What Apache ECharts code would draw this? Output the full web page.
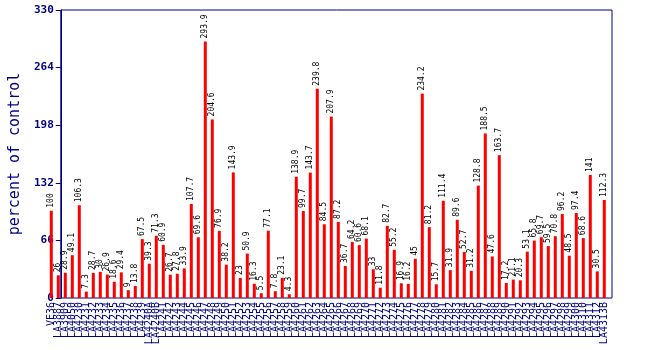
<!DOCTYPE html>
<html>
<head>
<meta charset="utf-8">
<script src="https://cdn.jsdelivr.net/npm/echarts@6/dist/echarts.min.js"></script>
<style>
html,body{margin:0;padding:0;background:#fff;}
#c{width:650px;height:350px;}
</style>
</head>
<body>
<div id="c"></div>
<script>
var categories = ["VE36","LA3887","LA3909","LA4050","LA4230","LA4231","LA4232","LA4233","LA4234","LA4235",
"LA4236","LA4237","LA4238","LA4239","LA4240A","LA4240B","LA4241","LA4242","LA4243","LA4244",
"LA4245","LA4246","LA4247","LA4248","LA4249","LA4250","LA4251","LA4252","LA4253","LA4254",
"LA4255","LA4256","LA4257","LA4258","LA4259","LA4260","LA4261","LA4262","LA4263","LA4264",
"LA4265","LA4266","LA4267","LA4268","LA4269","LA4270","LA4271","LA4272","LA4273","LA4274",
"LA4275","LA4276","LA4277","LA4278","LA4279","LA4280","LA4281","LA4282","LA4283","LA4284",
"LA4285","LA4286","LA4287","LA4288","LA4289","LA4290","LA4291","LA4292","LA4293","LA4294",
"LA4295","LA4296","LA4297","LA4298","LA4299","LA4300","LA4310","LA4311","LA4312","LA4313B"];
var values = [100,26,28.9,49.1,106.3,7.3,28.7,30,26.9,18.6,
29.4,9,13.8,67.5,39.3,71.3,60.9,26.7,27.8,33.9,
107.7,69.6,293.9,204.6,76.9,38.2,143.9,23,50.9,16.3,
5.5,77.1,7.8,23.1,4.3,138.9,99.7,143.7,239.8,84.5,
207.9,87.2,36.7,64.2,60.6,68.1,33,11.8,82.7,55.2,
16.9,16.2,45,234.2,81.2,15.7,111.4,31.9,89.6,52.7,
31.2,128.8,188.5,47.6,163.7,17.2,21.1,20.3,53.1,65.8,
69.7,59.5,70.8,96.2,48.5,97.4,68.6,141,30.5,112.3];
var yTicks = [0,66,132,198,264,330];
var yName = "percent of control";

var navy = '#000080';
var mono = 'DejaVu Sans Mono';
var chart = echarts.init(document.getElementById('c'), null, {renderer:'canvas'});
chart.setOption({
  animation:false,
  backgroundColor:'#ffffff',
  grid:[
    {left:45, top:10, width:567, height:288, show:true, borderColor:navy, borderWidth:1, backgroundColor:'transparent'},
    {left:47.8, top:10, width:560, height:288}
  ],
  xAxis:[
    {type:'value', gridIndex:0, show:false, min:0, max:1},
    {type:'category', gridIndex:1, data:categories, boundaryGap:true,
     axisLine:{show:false}, axisTick:{show:false},
     axisLabel:{interval:0, rotate:90, color:navy, fontFamily:mono, fontSize:10, margin:4}}
  ],
  yAxis:[
    {type:'value', gridIndex:0, min:yTicks[0], max:yTicks[yTicks.length-1], interval:yTicks[1]-yTicks[0],
     name:yName, nameLocation:'middle', nameGap:31, nameRotate:90,
     nameTextStyle:{color:navy, fontFamily:mono, fontSize:15},
     axisLine:{show:true, lineStyle:{color:navy, width:1}},
     axisTick:{show:true, length:5, lineStyle:{color:navy}},
     axisLabel:{color:navy, fontFamily:mono, fontWeight:'bold', fontSize:11, margin:7},
     splitLine:{show:false}},
    {type:'value', gridIndex:1, min:yTicks[0], max:yTicks[yTicks.length-1], show:false}
  ],
  series:[{
    type:'bar', xAxisIndex:1, yAxisIndex:1, data:values, barWidth:3,
    itemStyle:{color:'#ff0000'},
    label:{show:true, position:'top', rotate:90, align:'left', verticalAlign:'middle', distance:3,
      color:'#000000', fontFamily:mono, fontSize:8}
  }]
});
</script>
</body>
</html>
